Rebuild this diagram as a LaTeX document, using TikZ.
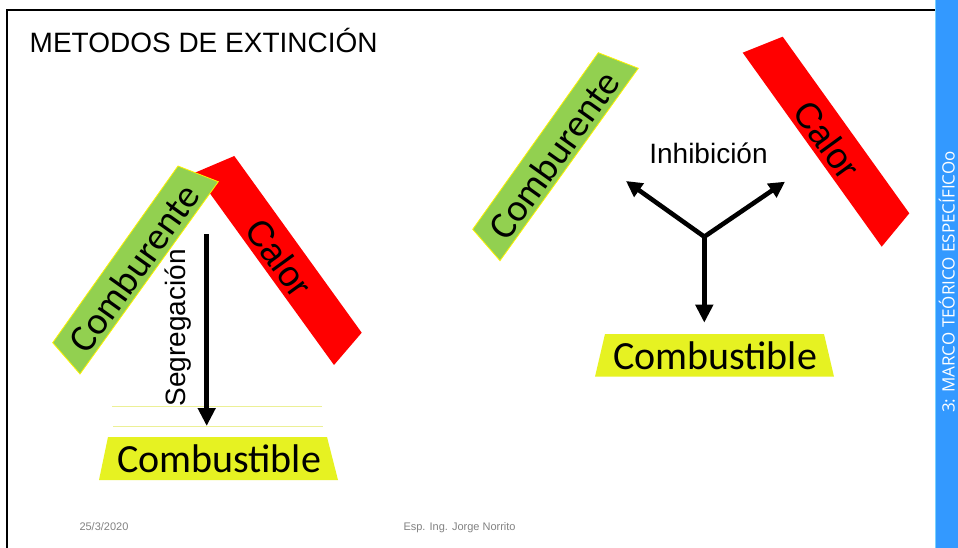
\documentclass[tikz,border=0pt]{standalone}
\usepackage{fontspec}
\setmainfont{Liberation Sans}
\newfontfamily\calibri{Carlito}
\newfontfamily\sidefont{Open Sans}
\usetikzlibrary{arrows.meta}
\definecolor{fuelyellow}{RGB}{230,242,34}
\definecolor{oxgreen}{RGB}{146,208,80}
\definecolor{heatred}{RGB}{255,0,0}
\definecolor{barblue}{RGB}{51,153,255}
\definecolor{baredge}{RGB}{120,210,255}
\definecolor{faintline}{RGB}{236,240,150}
\definecolor{footgray}{RGB}{130,130,130}
\tikzset{
  oxbox/.style={fill=oxgreen, draw=yellow, line width=0.8pt},
  heatbox/.style={fill=heatred},
  fuelbox/.style={fill=fuelyellow},
  bigsans/.style={font=\calibri\fontsize{40}{40}\selectfont, inner sep=0pt},
  oxlabel/.style={font=\calibri\fontsize{38.5}{38.5}\selectfont, inner sep=0pt},
  heatlabel/.style={font=\fontsize{36}{36}\selectfont, inner sep=0pt},
  methodlabel/.style={font=\fontsize{28}{28}\selectfont, inner sep=0pt},
  footer/.style={font=\fontsize{11}{11}\selectfont, text=footgray, inner sep=0pt, anchor=base west},
  thickarrow/.style={line width=4.8pt, -{Triangle[width=17pt,length=18pt]}},
  thinarrow/.style={line width=4.6pt, -{Triangle[width=16pt,length=16pt]}},
}
\begin{document}
\begin{tikzpicture}[x=1pt,y=-1pt]
\useasboundingbox (0,0) rectangle (958,548);
\fill[white] (0,0) rectangle (958,548);

% slide frame
\draw[line width=2.2pt] (7,560) -- (7,10) -- (935,10);

% side bar
\fill[barblue] (935,0) rectangle (958,548);
\draw[baredge, line width=1pt] (935.3,0) -- (935.3,548);
\node[font=\sidefont\fontsize{17}{17}\selectfont, text=white, rotate=90, inner sep=0pt, anchor=base]
  (side) at (954.5,282) {3: MARCO TEÓRICO ESPECÍFICOo};

% title
\node[font=\fontsize{28}{28}\selectfont, anchor=base west, inner sep=0pt]
  (title) at (29.5,53) {METODOS DE EXTINCIÓN};

% ---------- left: segregation ----------
\fill[heatbox] (234.3,156) -- (361.7,332.7) -- (334,365) -- (195,172.7) -- cycle;
\node[heatlabel, rotate=-54] (calorL) at (279,258) {Calor};
\draw[oxbox] (178,166) -- (218.3,181.7) -- (80,374) -- (52.7,342.7) -- cycle;
\node[oxlabel, rotate=54.5] (combL) at (134,268) {Comburente};

\draw[faintline, line width=1.5pt] (112,406.7) -- (322,406.7);
\draw[faintline, line width=1.5pt] (113,426.7) -- (323,426.7);

\coordinate (segtop) at (206.7,234);
\coordinate (segtip) at (206.7,426);
\draw[thickarrow] (segtop) -- (segtip);
\node[methodlabel, rotate=90] (seg) at (178,328) {Segregación};

\fill[fuelbox] (108,437) -- (327,437) -- (338,480) -- (99,480) -- cycle;
\node[bigsans, anchor=base] (fuelL) at (219,472) {Combustible};

% ---------- right: inhibition ----------
\draw[oxbox] (598.3,52.7) -- (638.3,68.3) -- (500,260.7) -- (472.7,229.3) -- cycle;
\node[oxlabel, rotate=54.5] (combR) at (554,155) {Comburente};
\fill[heatbox] (782.7,36.7) -- (909.3,213.3) -- (881.7,246.7) -- (742.7,52.7) -- cycle;
\node[heatlabel, rotate=-54] (calorR) at (827,140) {Calor};

\node[methodlabel, anchor=base] (inh) at (708.5,163.3) {Inhibición};

\coordinate (hub) at (704.3,236.7);
\coordinate (tipA) at (626,181);
\coordinate (tipB) at (785,181.7);
\coordinate (tipC) at (704.3,322.7);
\draw[thinarrow] (hub) -- (tipA);
\draw[thinarrow] (hub) -- (tipB);
\draw[thickarrow] (hub) -- (tipC);

\fill[fuelbox] (605,334) -- (824,334) -- (834,376.7) -- (595,376.7) -- cycle;
\node[bigsans, anchor=base] (fuelR) at (715,369) {Combustible};

% footer
\node[footer] (date) at (79.3,530) {25/3/2020};
\node[footer] (author) at (403.3,530) {Esp. Ing. Jorge Norrito};
\end{tikzpicture}
\end{document}
